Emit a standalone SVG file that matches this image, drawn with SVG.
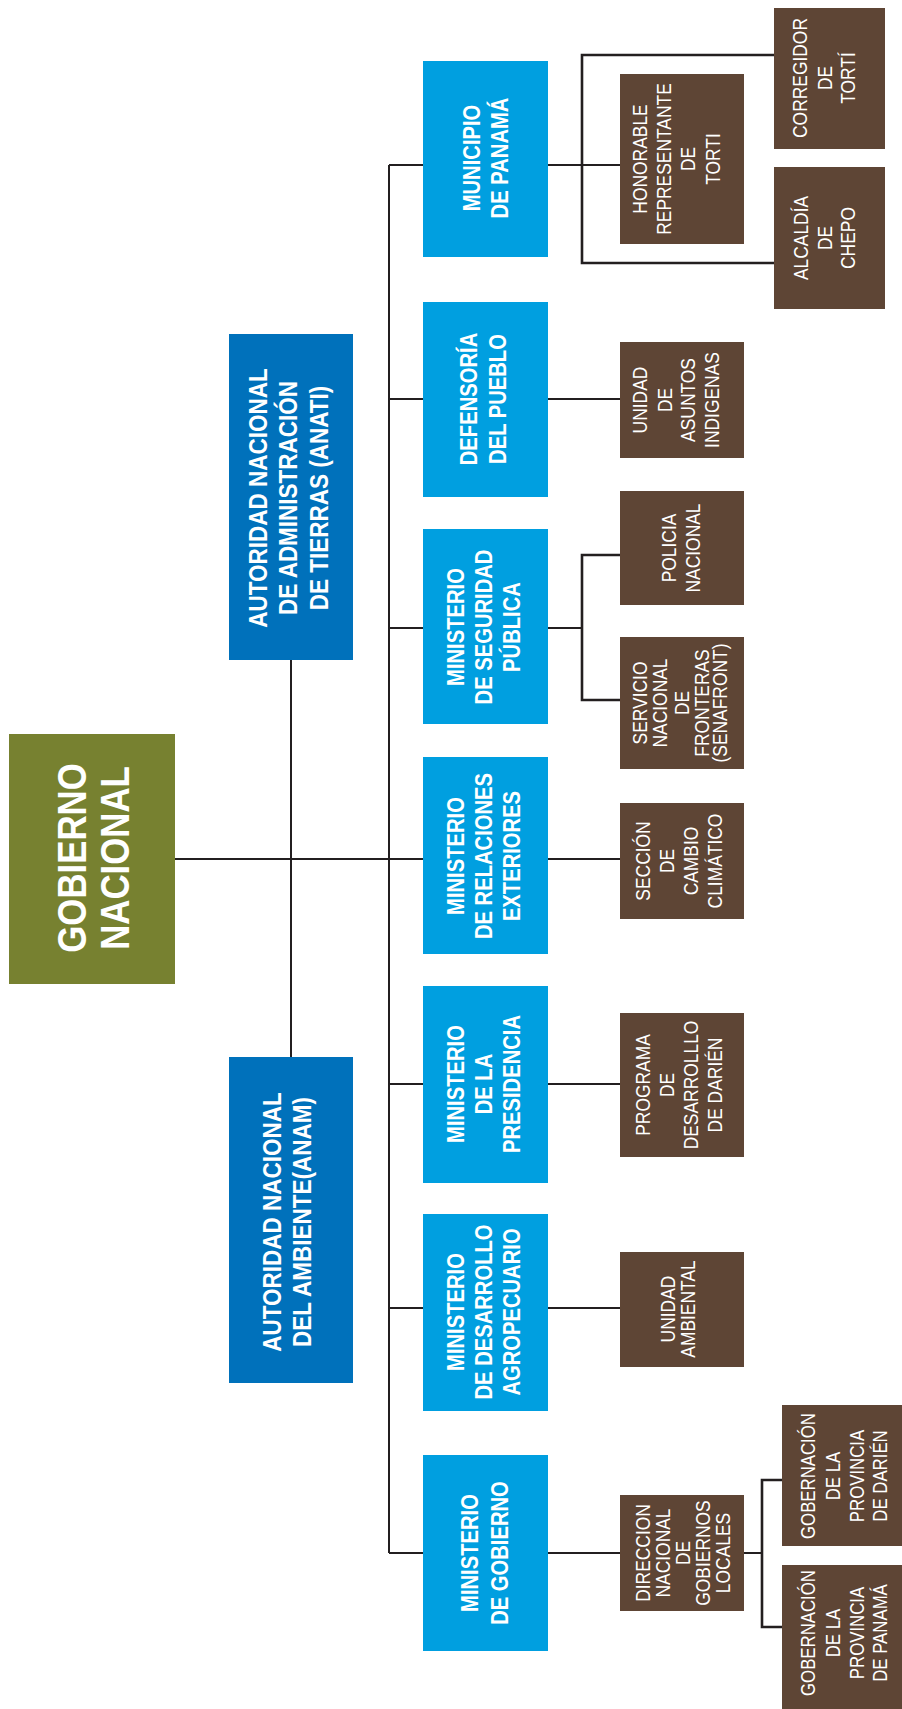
<svg xmlns="http://www.w3.org/2000/svg" width="902" height="1709" viewBox="0 0 902 1709">
<style>
.ln{fill:none;stroke:#231f20;stroke-width:2}
.br{fill:none;stroke:#231f20;stroke-width:2.6}
.green{fill:#778130}
.dblue{fill:#0071bb}
.lblue{fill:#009fe0}
.brown{fill:#5e4535}
text{fill:#ffffff;text-anchor:middle;font-family:"Liberation Sans","Roboto",sans-serif}
.tb{font-weight:bold}
.t40{font-size:40px}
.t25{font-size:25px}
.t24{font-size:23.5px}
.t21{font-size:21px}
</style>
<rect width="902" height="1709" fill="#ffffff"/>
<g id="connectors">
<path class="ln" d="M175,859 H389"/>
<path class="ln" d="M291,660 V1057"/>
<path class="ln" d="M389,165 V1553"/>
<path class="ln" d="M389,165 H423 M389,399 H423 M389,628 H423 M389,859 H423 M389,1084 H423 M389,1308 H423 M389,1553 H423"/>
<path class="ln" d="M548,165 H620 M548,399 H620 M548,628 H582 M548,859 H620 M548,1084 H620 M548,1308 H620 M548,1553 H620 M744,1553 H762"/>
<path class="br" d="M774,55 H582 V263 H774"/>
<path class="br" d="M620,555 H582 V700 H620"/>
<path class="br" d="M782,1480 H762 V1627 H782"/>
</g>
<g id="gobierno-nacional">
<rect class="green" x="9" y="734" width="166" height="250"/>
<text class="tb t40" transform="translate(0,858) rotate(-90) scale(0.87,1)"><tspan x="0" y="86">GOBIERNO</tspan><tspan x="0" y="129">NACIONAL</tspan></text>
</g>
<g id="anati">
<rect class="dblue" x="229" y="334" width="124" height="326"/>
<text class="tb t25" transform="translate(0,498) rotate(-90) scale(0.9,1)"><tspan x="0" y="267">AUTORIDAD NACIONAL</tspan><tspan x="0" y="297.5">DE ADMINISTRACIÓN</tspan><tspan x="0" y="328">DE TIERRAS (ANATI)</tspan></text>
</g>
<g id="anam">
<rect class="dblue" x="229" y="1057" width="124" height="326"/>
<text class="tb t25" transform="translate(0,1222) rotate(-90) scale(0.9,1)"><tspan x="0" y="281.5">AUTORIDAD NACIONAL</tspan><tspan x="0" y="311">DEL AMBIENTE(ANAM)</tspan></text>
</g>
<g id="municipio-panama">
<rect class="lblue" x="423" y="61" width="125" height="196"/>
<text class="tb t24" transform="translate(0,158) rotate(-90) scale(0.86,1)"><tspan x="0" y="480.5">MUNICIPIO</tspan><tspan x="0" y="508.5">DE PANAMÁ</tspan></text>
</g>
<g id="defensoria">
<rect class="lblue" x="423" y="302" width="125" height="195"/>
<text class="tb t24" transform="translate(0,399) rotate(-90) scale(0.86,1)"><tspan x="0" y="477.5">DEFENSORÍA</tspan><tspan x="0" y="506.5">DEL PUEBLO</tspan></text>
</g>
<g id="seguridad">
<rect class="lblue" x="423" y="529" width="125" height="195"/>
<text class="tb t24" transform="translate(0,627) rotate(-90) scale(0.86,1)"><tspan x="0" y="464.5">MINISTERIO</tspan><tspan x="0" y="492.5">DE SEGURIDAD</tspan><tspan x="0" y="520.5">PÚBLICA</tspan></text>
</g>
<g id="relaciones">
<rect class="lblue" x="423" y="757" width="125" height="197"/>
<text class="tb t24" transform="translate(0,856) rotate(-90) scale(0.86,1)"><tspan x="0" y="464.5">MINISTERIO</tspan><tspan x="0" y="492.5">DE RELACIONES</tspan><tspan x="0" y="520.5">EXTERIORES</tspan></text>
</g>
<g id="presidencia">
<rect class="lblue" x="423" y="986" width="125" height="197"/>
<text class="tb t24" transform="translate(0,1084) rotate(-90) scale(0.86,1)"><tspan x="0" y="464.5">MINISTERIO</tspan><tspan x="0" y="492.5">DE LA</tspan><tspan x="0" y="520.5">PRESIDENCIA</tspan></text>
</g>
<g id="agropecuario">
<rect class="lblue" x="423" y="1214" width="125" height="197"/>
<text class="tb t24" transform="translate(0,1312) rotate(-90) scale(0.86,1)"><tspan x="0" y="464.5">MINISTERIO</tspan><tspan x="0" y="492.5">DE DESARROLLO</tspan><tspan x="0" y="520.5">AGROPECUARIO</tspan></text>
</g>
<g id="min-gobierno">
<rect class="lblue" x="423" y="1455" width="125" height="196"/>
<text class="tb t24" transform="translate(0,1553) rotate(-90) scale(0.86,1)"><tspan x="0" y="478.5">MINISTERIO</tspan><tspan x="0" y="508.5">DE GOBIERNO</tspan></text>
</g>
<g id="honorable">
<rect class="brown" x="620" y="74" width="124" height="170"/>
<text class="t21" transform="translate(0,159) rotate(-90) scale(0.83,1)"><tspan x="0" y="647.5">HONORABLE</tspan><tspan x="0" y="671.5">REPRESENTANTE</tspan><tspan x="0" y="695.5">DE</tspan><tspan x="0" y="720">TORTI</tspan></text>
</g>
<g id="corregidor">
<rect class="brown" x="774" y="8" width="111" height="141"/>
<text class="t21" transform="translate(0,78) rotate(-90) scale(0.83,1)"><tspan x="0" y="807.5">CORREGIDOR</tspan><tspan x="0" y="832">DE</tspan><tspan x="0" y="855.5">TORTÍ</tspan></text>
</g>
<g id="alcaldia">
<rect class="brown" x="774" y="167" width="111" height="142"/>
<text class="t21" transform="translate(0,238) rotate(-90) scale(0.83,1)"><tspan x="0" y="808.5">ALCALDÍA</tspan><tspan x="0" y="832">DE</tspan><tspan x="0" y="855.5">CHEPO</tspan></text>
</g>
<g id="asuntos-indigenas">
<rect class="brown" x="620" y="342" width="124" height="116"/>
<text class="t21" transform="translate(0,400) rotate(-90) scale(0.83,1)"><tspan x="0" y="647.5">UNIDAD</tspan><tspan x="0" y="672">DE</tspan><tspan x="0" y="695.5">ASUNTOS</tspan><tspan x="0" y="719.5">INDIGENAS</tspan></text>
</g>
<g id="policia">
<rect class="brown" x="620" y="491" width="124" height="114"/>
<text class="t21" transform="translate(0,548) rotate(-90) scale(0.83,1)"><tspan x="0" y="676.5">POLICIA</tspan><tspan x="0" y="700.5">NACIONAL</tspan></text>
</g>
<g id="senafront">
<rect class="brown" x="620" y="637" width="124" height="132"/>
<text class="t21" transform="translate(0,703) rotate(-90) scale(0.83,1)"><tspan x="0" y="647.5">SERVICIO</tspan><tspan x="0" y="667.5">NACIONAL</tspan><tspan x="0" y="689">DE</tspan><tspan x="0" y="709">FRONTERAS</tspan><tspan x="0" y="727.5">(SENAFRONT)</tspan></text>
</g>
<g id="cambio-climatico">
<rect class="brown" x="620" y="803" width="124" height="116"/>
<text class="t21" transform="translate(0,861) rotate(-90) scale(0.83,1)"><tspan x="0" y="650.5">SECCIÓN</tspan><tspan x="0" y="674.5">DE</tspan><tspan x="0" y="698.5">CAMBIO</tspan><tspan x="0" y="722.5">CLIMÁTICO</tspan></text>
</g>
<g id="programa-darien">
<rect class="brown" x="620" y="1013" width="124" height="144"/>
<text class="t21" transform="translate(0,1085) rotate(-90) scale(0.83,1)"><tspan x="0" y="650.5">PROGRAMA</tspan><tspan x="0" y="674.5">DE</tspan><tspan x="0" y="698.5">DESARROLLLO</tspan><tspan x="0" y="722.5">DE DARIÉN</tspan></text>
</g>
<g id="unidad-ambiental">
<rect class="brown" x="620" y="1252" width="124" height="115"/>
<text class="t21" transform="translate(0,1309) rotate(-90) scale(0.83,1)"><tspan x="0" y="675.5">UNIDAD</tspan><tspan x="0" y="695.5">AMBIENTAL</tspan></text>
</g>
<g id="direccion-gobiernos-locales">
<rect class="brown" x="620" y="1495" width="124" height="116"/>
<text class="t21" transform="translate(0,1553) rotate(-90) scale(0.83,1)"><tspan x="0" y="650.5">DIRECCION</tspan><tspan x="0" y="670.5">NACIONAL</tspan><tspan x="0" y="690.5">DE</tspan><tspan x="0" y="710.5">GOBIERNOS</tspan><tspan x="0" y="730.5">LOCALES</tspan></text>
</g>
<g id="gobernacion-darien">
<rect class="brown" x="782" y="1405" width="120" height="141"/>
<text class="t21" transform="translate(0,1476) rotate(-90) scale(0.8,1)"><tspan x="0" y="815.5">GOBERNACIÓN</tspan><tspan x="0" y="840.5">DE LA</tspan><tspan x="0" y="864.5">PROVINCIA</tspan><tspan x="0" y="887.5">DE DARIÉN</tspan></text>
</g>
<g id="gobernacion-panama">
<rect class="brown" x="782" y="1565" width="120" height="144"/>
<text class="t21" transform="translate(0,1633) rotate(-90) scale(0.8,1)"><tspan x="0" y="815.5">GOBERNACIÓN</tspan><tspan x="0" y="840.5">DE LA</tspan><tspan x="0" y="864.5">PROVINCIA</tspan><tspan x="0" y="887.5">DE PANAMÁ</tspan></text>
</g>
</svg>
